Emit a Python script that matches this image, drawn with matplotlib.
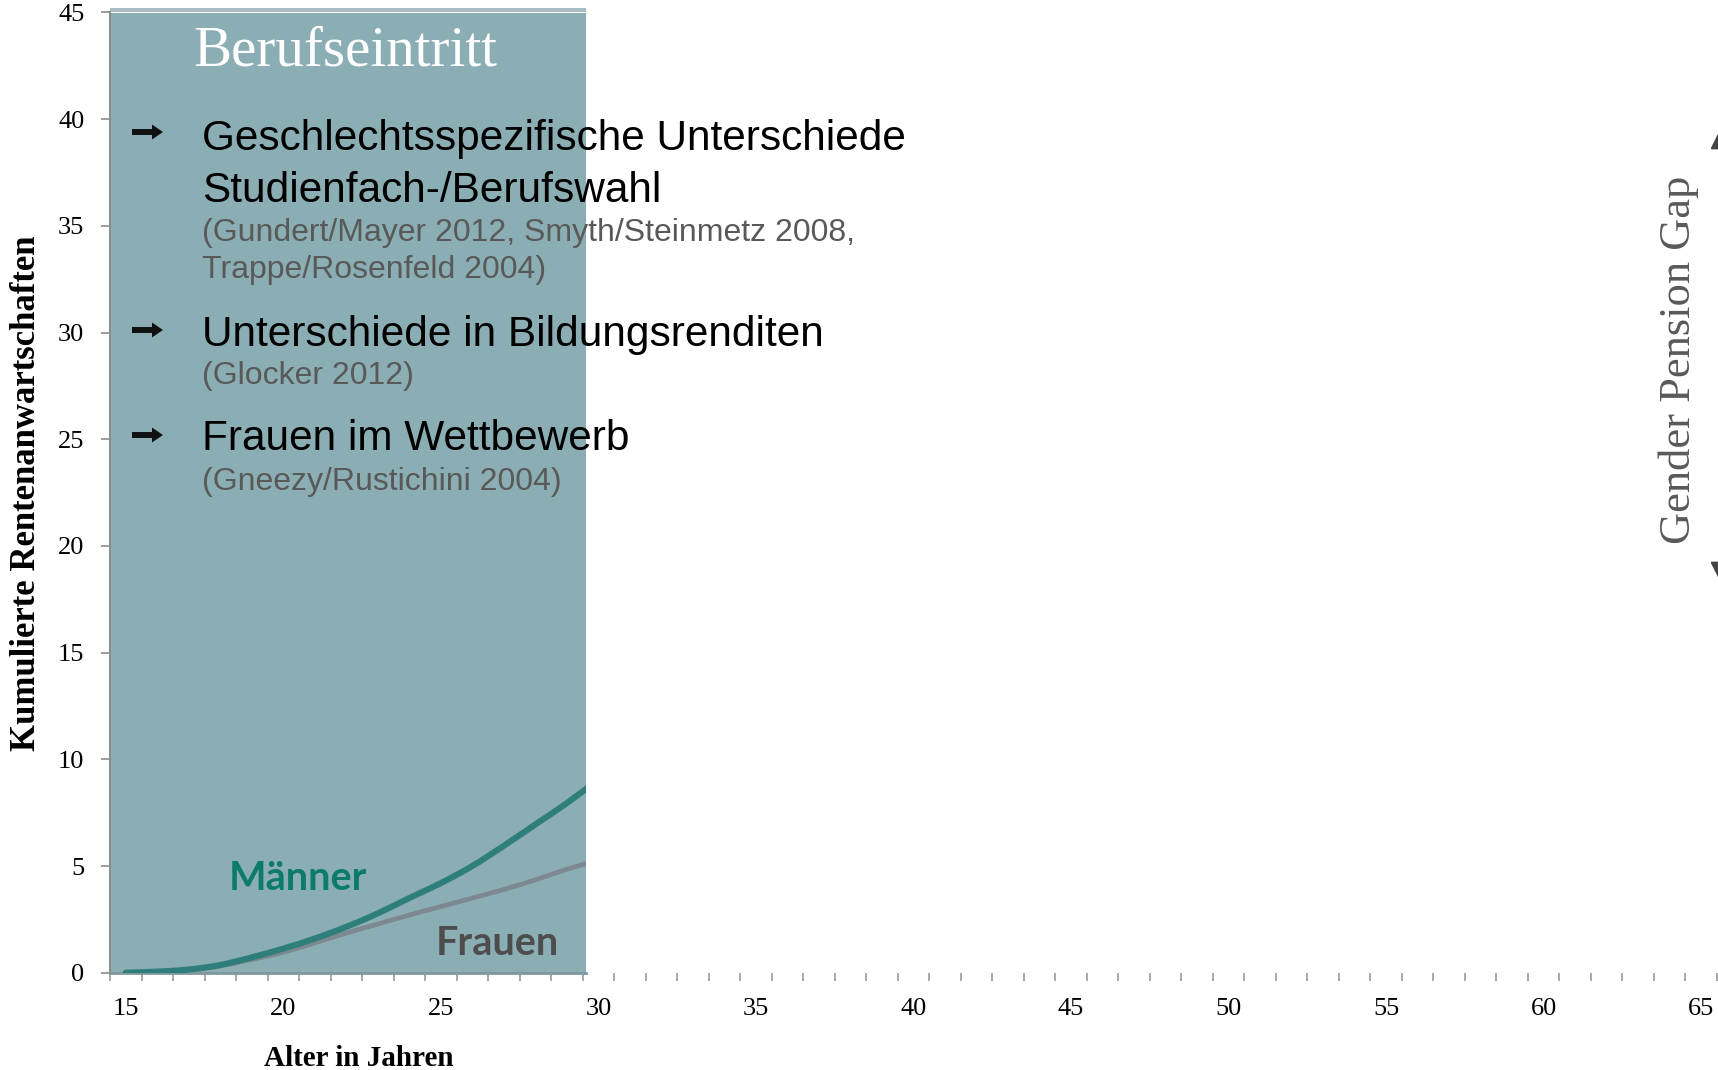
import matplotlib.pyplot as plt
import matplotlib.patches as mpatches
import matplotlib.transforms as mtransforms
from matplotlib.path import Path
from matplotlib.ticker import FixedLocator

# data
alter = [15, 16, 17, 18, 19, 20, 21, 22, 23, 24, 25, 26, 27, 28, 29, 30]
maenner = [0, 0.05, 0.15, 0.36, 0.72, 1.13, 1.6, 2.15, 2.78, 3.5, 4.2, 5.0, 5.95, 6.95, 7.95, 9.05]
frauen = [0, 0.04, 0.12, 0.32, 0.62, 0.96, 1.4, 1.86, 2.28, 2.7, 3.1, 3.5, 3.9, 4.35, 4.85, 5.28]
x_ticks = [15, 20, 25, 30, 35, 40, 45, 50, 55, 60, 65]
y_ticks = [0, 5, 10, 15, 20, 25, 30, 35, 40, 45]
phase_start, phase_end = 14.5, 29.6

W, H = 1718, 1070
fig = plt.figure(figsize=(W / 100, H / 100), dpi=100)
px = mtransforms.Affine2D().scale(1 / W, -1 / H).translate(0, 1) + fig.transFigure

ax = fig.add_axes([110 / W, 1 - 972.7 / H, (1717 - 110) / W, (972.7 - 12.5) / H])
ax.set_xlim(14.5, 65.5)
ax.set_ylim(0, 45)

grey = '#8c8c8c'
for s in ['top', 'right', 'bottom']:
    ax.spines[s].set_visible(False)
ax.spines['left'].set_color(grey)
ax.spines['left'].set_linewidth(1.5)


def smooth_path(xs, ys):
    # smoothed line through the points (like Excel's "smoothed line")
    pts = list(zip(xs, ys))
    verts = [pts[0]]
    codes = [Path.MOVETO]
    n = len(pts)
    for i in range(n - 1):
        p0 = pts[max(i - 1, 0)]
        p1 = pts[i]
        p2 = pts[i + 1]
        p3 = pts[min(i + 2, n - 1)]
        c1 = (p1[0] + (p2[0] - p0[0]) / 6, p1[1] + (p2[1] - p0[1]) / 6)
        c2 = (p2[0] - (p3[0] - p1[0]) / 6, p2[1] - (p3[1] - p1[1]) / 6)
        verts += [c1, c2, p2]
        codes += [Path.CURVE4] * 3
    return Path(verts, codes)


# shaded phase
rect = mpatches.Rectangle((phase_start, 0), phase_end - phase_start, 45,
                          facecolor='#8aaeb3', edgecolor='none', zorder=1)
ax.add_patch(rect)
ax.add_patch(mpatches.Rectangle((phase_start, 45), phase_end - phase_start, 0.21,
                                facecolor='#a9bcc5', edgecolor='none', clip_on=False, zorder=1))
ax.plot([phase_start, phase_end], [0, 0], color='#7f98a0', lw=2, zorder=2, clip_on=False)

pf = mpatches.PathPatch(smooth_path(alter, frauen), facecolor='none', edgecolor='#7d8891',
                        lw=3.4, zorder=3, capstyle='round')
pm = mpatches.PathPatch(smooth_path(alter, maenner), facecolor='none', edgecolor='#2e7e7b',
                        lw=4.4, zorder=4, capstyle='round')
ax.add_patch(pf)
ax.add_patch(pm)
pf.set_clip_path(rect)
pm.set_clip_path(rect)

# ticks
serif = 'Liberation Serif'
ax.set_xticks(x_ticks)
ax.set_xticklabels([str(v) for v in x_ticks], fontsize=19, family=serif)
ax.xaxis.set_minor_locator(FixedLocator([v + 0.5 for v in range(14, 66)]))
ax.tick_params(axis='x', which='major', length=0, pad=18)
ax.tick_params(axis='x', which='minor', length=6, width=1.2, color='#9a9a9a')
ax.set_yticks(y_ticks)
ax.set_yticklabels([str(v) for v in y_ticks], fontsize=19, family=serif)
ax.tick_params(axis='y', length=6.5, width=1.2, color=grey, pad=12)

# axis labels
fig.text(27 / W, 1 - 493 / H, 'Kumulierte Rentenanwartschaften', rotation=90,
         ha='center', va='center', fontsize=25, fontweight='bold', family=serif)
fig.text(359 / W, 1 - 1058 / H, 'Alter in Jahren', ha='center', va='center',
         fontsize=21, fontweight='bold', family=serif)

# title in shaded region
fig.text(345 / W, 1 - 66 / H, 'Berufseintritt', ha='center', va='baseline',
         fontsize=41, color='white', family=serif)

# bullets
sans = 'Liberation Sans'
lines = [
    (150, 'Geschlechtsspezifische Unterschiede', 30.5, 'black'),
    (202, 'Studienfach-/Berufswahl', 30.5, 'black'),
    (241, '(Gundert/Mayer 2012, Smyth/Steinmetz 2008,', 23, '#595959'),
    (278, 'Trappe/Rosenfeld 2004)', 23, '#595959'),
    (346, 'Unterschiede in Bildungsrenditen', 30.5, 'black'),
    (384, '(Glocker 2012)', 23, '#595959'),
    (450, 'Frauen im Wettbewerb', 30.5, 'black'),
    (490, '(Gneezy/Rustichini 2004)', 23, '#595959'),
]
for y, txt, fs, col in lines:
    fig.text(202 / W, 1 - y / H, txt, ha='left', va='baseline', fontsize=fs,
             color=col, family=sans)

for yc in [132, 330, 435]:
    x0 = 132
    pts = [(x0, yc - 3), (x0 + 20, yc - 3), (x0 + 20, yc - 7.5), (x0 + 31, yc),
           (x0 + 20, yc + 7.5), (x0 + 20, yc + 3), (x0, yc + 3)]
    fig.patches.append(mpatches.Polygon(pts, closed=True, facecolor='#111111',
                                        edgecolor='none', transform=px, figure=fig))

# series labels
fig.text(229 / W, 1 - 890 / H, 'Männer', ha='left', va='baseline', fontsize=28.5,
         fontweight='bold', color='#0d7b6b', family='Lato')
fig.text(436 / W, 1 - 955 / H, 'Frauen', ha='left', va='baseline', fontsize=28.5,
         fontweight='bold', color='#4d4d4d', family='Lato')

# gap annotation on the right
fig.text(1679 / W, 1 - 360 / H, 'Gender Pension Gap', rotation=90, ha='center',
         va='center', fontsize=32, color='#595959', family=serif)
fig.patches.append(mpatches.FancyArrowPatch((1723, 121), (1723, 590), transform=px,
                                            arrowstyle='<|-|>', mutation_scale=40,
                                            color='#444444', lw=1.5, figure=fig))

fig.savefig('out.png', dpi=100)
